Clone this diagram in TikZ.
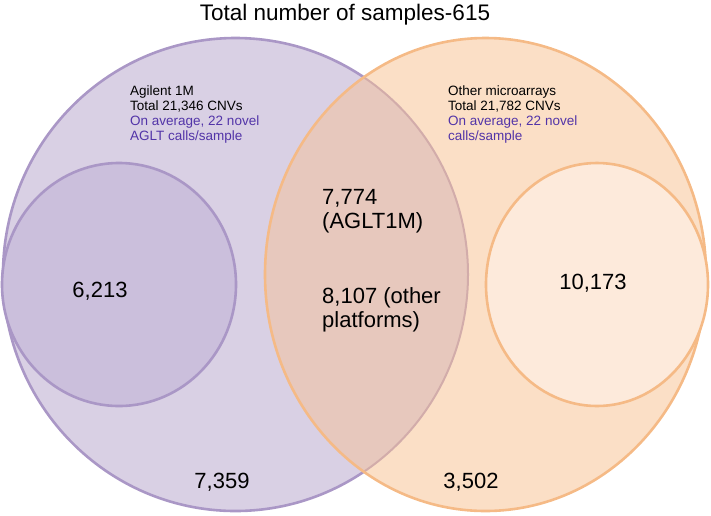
\documentclass[tikz,border=0pt]{standalone}
\usepackage{fontspec}
\setmainfont{Liberation Sans}
\definecolor{purpleFill}{RGB}{217,208,228}
\definecolor{purpleSmall}{RGB}{203,191,220}
\definecolor{purpleLine}{RGB}{170,151,198}
\definecolor{orangeFill}{RGB}{251,223,198}
\definecolor{orangeSmall}{RGB}{253,234,219}
\definecolor{orangeLine}{RGB}{245,186,134}
\definecolor{lensFill}{RGB}{231,200,189}
\definecolor{lensLine}{RGB}{210,172,170}
\definecolor{noteBlue}{RGB}{82,52,168}
\begin{document}
\begin{tikzpicture}[x=1pt,y=-1pt,
  ring/.style={line width=2.6pt},
  note/.style={anchor=north west,align=left,font=\fontsize{13.5}{14.7}\selectfont,inner sep=0pt},
  bignum/.style={font=\fontsize{22}{26}\selectfont,inner sep=0pt},
  lenstext/.style={anchor=west,align=left,font=\fontsize{22}{24.5}\selectfont,inner sep=0pt}]
\useasboundingbox (0,0) rectangle (711,515);
% left big
\fill[purpleFill] (235.5,274.5) ellipse [x radius=232.5,y radius=236.5];
\draw[ring,purpleLine] (235.5,274.5) ellipse [x radius=232.5,y radius=236.5];
% small left
\filldraw[ring,draw=purpleLine,fill=purpleSmall] (119,284.5) ellipse [x radius=117,y radius=121.5];
% right big
\fill[orangeFill] (485.5,274.5) ellipse [x radius=220.5,y radius=236.5];
\begin{scope}
  \clip (235.5,274.5) ellipse [x radius=232.5,y radius=236.5];
  \fill[lensFill] (485.5,274.5) ellipse [x radius=220.5,y radius=236.5];
\end{scope}
\begin{scope}
  \clip (485.5,274.5) ellipse [x radius=220.5,y radius=236.5];
  \draw[line width=2pt,lensLine] (235.5,274.5) ellipse [x radius=232.5,y radius=236.5];
\end{scope}
\draw[ring,orangeLine] (485.5,274.5) ellipse [x radius=220.5,y radius=236.5];
% small right
\filldraw[ring,draw=orangeLine,fill=orangeSmall] (597,284.5) ellipse [x radius=111,y radius=121.5];
% texts
\node[font=\fontsize{22.5}{26}\selectfont,inner sep=0pt] (title) at (345,15) {Total number of samples-615};
\node[note] (agl) at (130,86) {Agilent 1M\\Total 21,346 CNVs\\\textcolor{noteBlue}{On average, 22 novel}\\\textcolor{noteBlue}{AGLT calls/sample}};
\node[note] (oth) at (448,86) {Other microarrays\\Total 21,782 CNVs\\\textcolor{noteBlue}{On average, 22 novel}\\\textcolor{noteBlue}{calls/sample}};
\node[bignum] (n6213) at (100,291) {6,213};
\node[bignum] (n10173) at (593,283) {10,173};
\node[bignum] (n7359) at (222,482) {7,359};
\node[bignum] (n3502) at (471,482) {3,502};
\node[lenstext] (agltm) at (322,211) {7,774\\(AGLT1M)};
\node[lenstext] (other) at (322,310) {8,107 (other\\platforms)};
\end{tikzpicture}
\end{document}
